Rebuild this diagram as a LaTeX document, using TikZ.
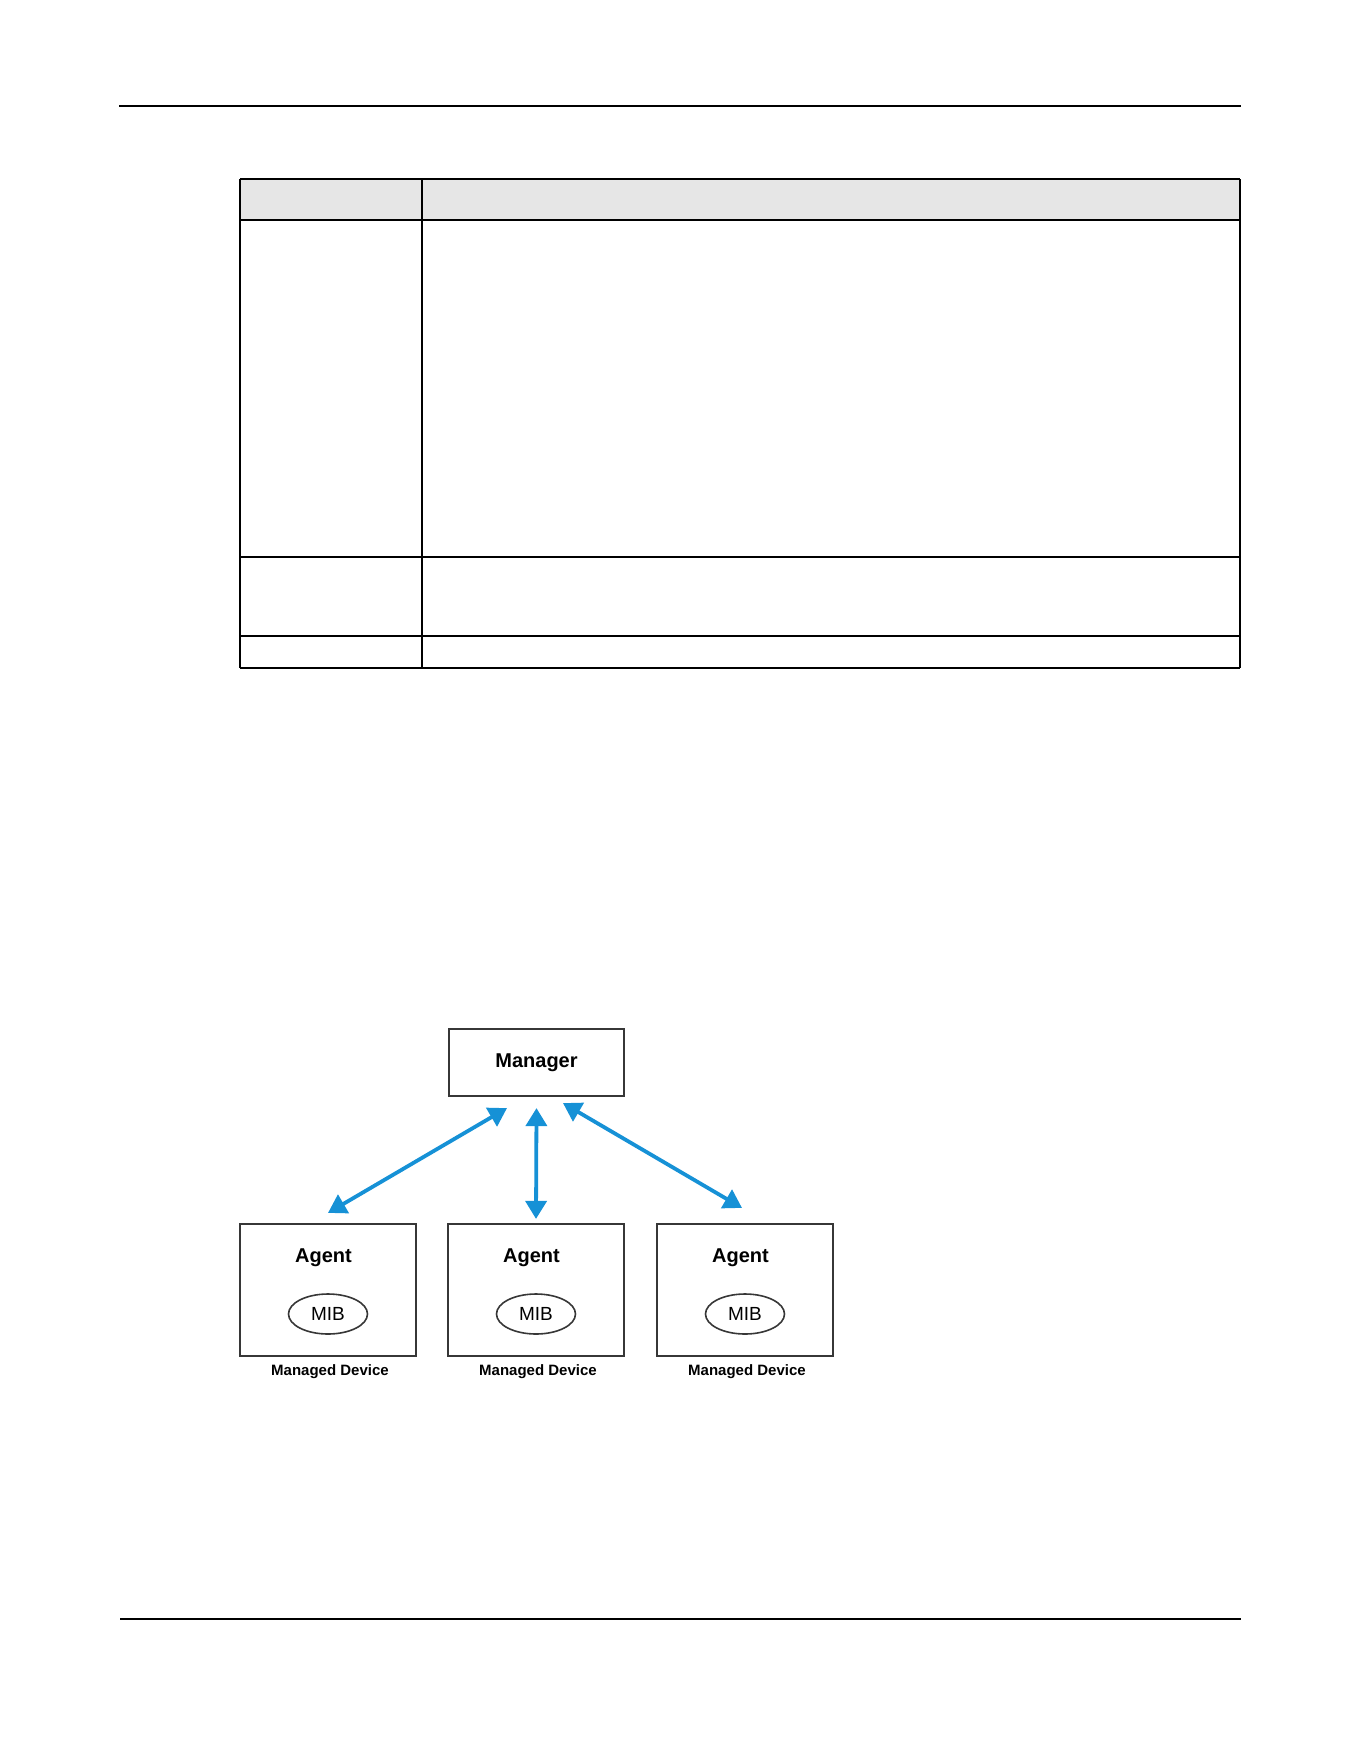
\documentclass[tikz,border=0pt]{standalone}
\usepackage{fontspec}
\setmainfont{Liberation Sans}
\usepackage{xcolor}
\usetikzlibrary{arrows.meta, shapes.geometric}
\definecolor{linkblue}{RGB}{22,145,214}
\definecolor{boxgray}{RGB}{55,55,55}
\definecolor{headgray}{RGB}{230,230,230}

\begin{document}
\begin{tikzpicture}[x=0.5pt, y=-0.5pt,
  rule/.style={line width=1pt},
  devbox/.style={draw=boxgray, line width=1.1pt, minimum width=88pt, minimum height=66pt, inner sep=0pt},
  mgrbox/.style={draw=boxgray, line width=1.1pt, minimum width=87.5pt, minimum height=33.5pt, font=\fontsize{10}{12}\selectfont\bfseries},
  mib/.style={draw=boxgray, ellipse, line width=0.8pt, minimum width=39.5pt, minimum height=20pt, inner sep=0pt, font=\fontsize{9.5}{11}\selectfont},
  agentlbl/.style={font=\fontsize{10}{12}\selectfont\bfseries},
  devlbl/.style={font=\fontsize{7.5}{9}\selectfont\bfseries},
  link/.style={draw=linkblue, line width=1.9pt, {Triangle[length=9pt,width=10.5pt]}-{Triangle[length=9pt,width=10.5pt]}}]
  \useasboundingbox (0,0) rectangle (1361,1761);
  \draw[rule] (119,106) -- (1241,106);
  \draw[rule] (120,1619) -- (1241,1619);
  \fill[headgray] (240,179) rectangle (1240,220);
  \draw[line width=1.3pt] (240,179) -- (1240,179) (240,220) -- (1240,220);
  \draw[rule] (240,557) -- (1240,557) (240,636) -- (1240,636) (240,668) -- (1240,668);
  \draw[line width=1.4pt] (240,179) -- (240,668);
  \draw[rule] (422,179) -- (422,668) (1240,179) -- (1240,668);
  \node[mgrbox] (mgr) at (536.5,1062.5) {Manager};
  \foreach \i/\x in {1/328, 2/536, 3/745} {
    \node[devbox] (a\i) at (\x,1290) {};
    \node[agentlbl] (ag\i) at (\x-4.5,1258) {Agent};
    \node[mib] (mib\i) at (\x,1314) {MIB};
    \node[devlbl] (md\i) at (\x+2,1372) {Managed Device};
  }
  \draw[link] ([yshift=5pt]a1.north) -- ([xshift=-14.75pt,yshift=-5.5pt]mgr.south);
  \draw[link] ([yshift=-5.5pt]mgr.south) -- ([yshift=2pt]a2.north);
  \draw[link] ([xshift=13.25pt,yshift=-3pt]mgr.south) -- ([xshift=-1.5pt,yshift=7.5pt]a3.north);
\end{tikzpicture}
\end{document}
